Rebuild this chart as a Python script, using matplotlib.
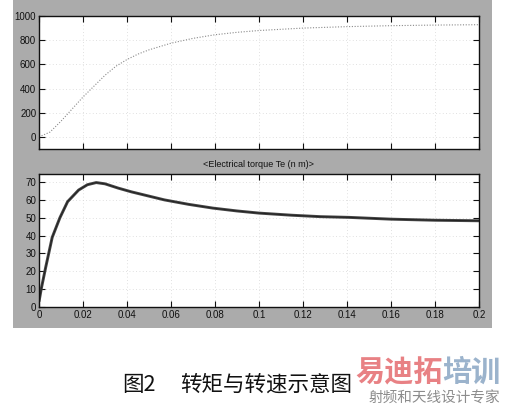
import matplotlib
matplotlib.use("Agg")
import matplotlib.pyplot as plt
from matplotlib.patches import Rectangle
import numpy as np

# ---- data ----
speed_t = [0, 0.005, 0.01, 0.015, 0.02, 0.025, 0.03, 0.035, 0.04, 0.045, 0.05, 0.06,
           0.07, 0.08, 0.09, 0.1, 0.12, 0.14, 0.16, 0.18, 0.2]
speed_v = [0, 40, 130, 230, 330, 420, 510, 585, 640, 685, 720, 775,
           815, 845, 865, 880, 900, 912, 920, 925, 928]

torque_t = [0, 0.001, 0.003, 0.006, 0.0095, 0.013, 0.018, 0.022, 0.026, 0.03,
            0.036, 0.042, 0.048, 0.057, 0.068, 0.079, 0.09, 0.1, 0.115, 0.128,
            0.141, 0.16, 0.18, 0.2]
torque_v = [3, 10, 22, 39, 50, 59, 65.5, 68.5, 69.7, 69,
            66.6, 64.5, 62.7, 60, 57.5, 55.4, 53.8, 52.6, 51.4, 50.6,
            50.2, 49.2, 48.6, 48.3]

x_ticks = [0, 0.02, 0.04, 0.06, 0.08, 0.1, 0.12, 0.14, 0.16, 0.18, 0.2]
x_labels = ["0", "0.02", "0.04", "0.06", "0.08", "0.1", "0.12", "0.14", "0.16", "0.18", "0.2"]
speed_ticks = [0, 200, 400, 600, 800, 1000]
torque_ticks = [0, 10, 20, 30, 40, 50, 60, 70]

torque_title = "<Electrical torque Te (n m)>"
caption_fig = "图2"
caption_text = "转矩与转速示意图"
wm_red = "易迪拓"
wm_blue = "培训"
wm_sub = "射频和天线设计专家"

W, H = 506, 412
plt.rcParams['font.family'] = ['Liberation Sans', 'DejaVu Sans']
fig = plt.figure(figsize=(W / 100, H / 100), dpi=100)
fig.patch.set_facecolor("white")

# grey scope panel
fig.patches.append(Rectangle((13 / W, 1 - 328 / H), (492 - 13) / W, 328 / H,
                             transform=fig.transFigure, facecolor="#ababab",
                             edgecolor="none", zorder=-5))

def style(ax):
    ax.set_zorder(2)
    ax.set_facecolor("white")
    for s in ax.spines.values():
        s.set_color("#111111")
        s.set_linewidth(1.0)
    ax.tick_params(direction="in", length=4, width=0.8, top=True, right=True,
                   labelsize=7, colors="#111111", pad=2)
    ax.grid(True, linestyle=(0, (1, 3)), color="#d6d6d6", linewidth=0.6)
    ax.set_xlim(0, 0.2)
    ax.set_xticks(x_ticks)

left = 39 / W
width = (479 - 39) / W

ax1 = fig.add_axes([left, 1 - 149 / H, width, (149 - 16) / H])
style(ax1)
ax1.plot(speed_t, speed_v, linestyle=(0, (1, 1.5)), color="#8a8a8a", linewidth=0.8)
ax1.set_ylim(-100, 1000)
ax1.set_yticks(speed_ticks)
ax1.set_xticklabels([])

ax2 = fig.add_axes([left, 1 - 307 / H, width, (307 - 174) / H])
style(ax2)
ax2.plot(torque_t, torque_v, color="#444444", linewidth=2.1, solid_capstyle="butt")
ax2.plot(torque_t, torque_v, color="#222222", linewidth=0.7)
ax2.set_ylim(0, 74.5)
ax2.set_yticks(torque_ticks)
ax2.set_xticklabels(x_labels)
ax2.set_title(torque_title, fontsize=6.5, color="#111111", pad=5)

cjk = ['Noto Sans CJK SC', 'DejaVu Sans']
fig.text(156 / W, 1 - 385 / H, caption_fig, family=cjk, fontsize=15.5,
         ha="right", va="center", color="#111111")
fig.text(180 / W, 1 - 385 / H, caption_text, family=cjk, fontsize=15.5,
         ha="left", va="center", color="#111111")

# watermark
fig.text(355 / W, 1 - 372 / H, wm_red, family=cjk, fontsize=21, fontweight="bold",
         ha="left", va="center", color="#e56b6f", alpha=0.85, zorder=5)
fig.text(500 / W, 1 - 372 / H, wm_blue, family=cjk, fontsize=21, fontweight="bold",
         ha="right", va="center", color="#8aa6c4", alpha=0.85, zorder=5)
fig.text(500 / W, 1 - 399 / H, wm_sub, family=cjk, fontsize=10.5,
         ha="right", va="center", color="#8c8c8c", zorder=5)

fig.savefig("out.png", dpi=100, facecolor="white")
